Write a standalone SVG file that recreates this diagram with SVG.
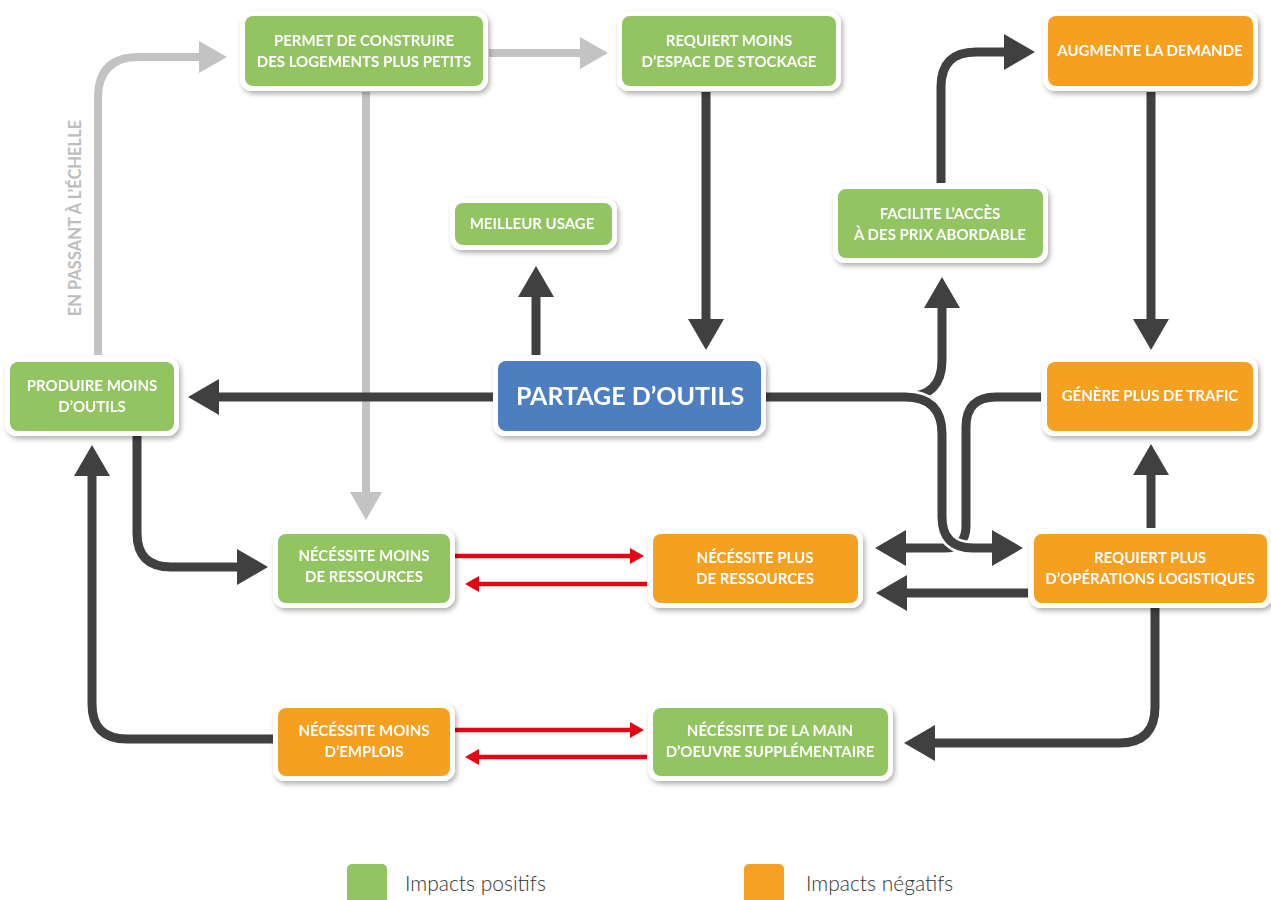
<svg xmlns="http://www.w3.org/2000/svg" width="1271" height="900" viewBox="0 0 1271 900">
<style>
.t{font-family:Lato,"Liberation Sans",sans-serif;font-weight:700;font-size:15px;fill:#fff;text-anchor:middle}
.big{font-size:25px}
.pos{fill:#93c462}.neg{fill:#f6a024}.mid{fill:#4e7fc0}
.wb{fill:#fff}
.dk{fill:none;stroke:#404040;stroke-width:9}
.gr{fill:none;stroke:#c3c3c3;stroke-width:8}
.rd{fill:none;stroke:#e30613;stroke-width:4.5}
.lg{font-family:Lato,"Open Sans",sans-serif;font-weight:300;font-size:21px;fill:#333}
.rot{font-family:Lato,"Liberation Sans",sans-serif;font-weight:700;font-size:16.5px;fill:#bdbdbd}
</style>
<defs>
<filter id="sh" x="-10%" y="-20%" width="125%" height="150%">
<feDropShadow dx="2" dy="3" stdDeviation="2.5" flood-color="#000" flood-opacity="0.3"/>
</filter>
<marker id="ad" markerUnits="userSpaceOnUse" markerWidth="31" markerHeight="36" viewBox="0 -18 31 36" refX="0" refY="0" orient="auto"><path d="M0,-18 L31,0 L0,18 Z" fill="#404040"/></marker>
<marker id="ag" markerUnits="userSpaceOnUse" markerWidth="28" markerHeight="32" viewBox="0 -16 28 32" refX="0" refY="0" orient="auto"><path d="M0,-16 L28,0 L0,16 Z" fill="#c3c3c3"/></marker>
<marker id="ar" markerUnits="userSpaceOnUse" markerWidth="14" markerHeight="16" viewBox="0 -8 14 16" refX="0" refY="0" orient="auto"><path d="M0,-8 L14,0 L0,8 Z" fill="#e30613"/></marker>
</defs>
<rect width="1271" height="900" fill="#fff"/>

<g id="connectors">
<path class="gr" d="M98,355 V98 Q98,57 139,57 H199" marker-end="url(#ag)"/>
<path class="gr" d="M489,53 H580" marker-end="url(#ag)"/>
<path class="gr" d="M366,92 V492" marker-end="url(#ag)"/>
<text class="rot" transform="translate(81,218) rotate(-90)" text-anchor="middle">EN PASSANT À L’ÉCHELLE</text>
<path class="dk" d="M497,397 H219" marker-end="url(#ad)"/>
<path class="dk" d="M536,355 V297" marker-end="url(#ad)"/>
<path class="dk" d="M706,92 V319" marker-end="url(#ad)"/>
<path class="dk" d="M765,397 H905 Q942,397 942,360 V308" marker-end="url(#ad)"/>
<path class="dk" d="M941,183 V87 Q941,52 976,52 H1004" marker-end="url(#ad)"/>
<path class="dk" d="M1151,92 V319" marker-end="url(#ad)"/>
<path class="dk" d="M1041,397 H996 Q966,397 966,427 V526 Q966,548 944,548 H906" marker-end="url(#ad)"/>
<path d="M905,397 Q942,397 942,434 V517 Q942,548 973,548 H992" fill="none" stroke="#fff" stroke-width="14"/>
<path class="dk" d="M905,397 Q942,397 942,434 V517 Q942,548 973,548 H992" marker-end="url(#ad)"/>
<path class="dk" d="M1028,593 H907" marker-end="url(#ad)"/>
<path class="dk" d="M1151,528 V475" marker-end="url(#ad)"/>
<path class="dk" d="M1155,608 V707 Q1155,743 1119,743 H935" marker-end="url(#ad)"/>
<path class="dk" d="M273,739 H127 Q92,739 92,704 V476" marker-end="url(#ad)"/>
<path class="dk" d="M137,436 V533 Q137,567 171,567 H237" marker-end="url(#ad)"/>
<path class="rd" d="M455,556 H630" marker-end="url(#ar)"/>
<path class="rd" d="M647,584 H479" marker-end="url(#ar)"/>
<path class="rd" d="M455,730 H630" marker-end="url(#ar)"/>
<path class="rd" d="M647,757 H479" marker-end="url(#ar)"/>
</g>

<g id="n-permet" filter="url(#sh)"><rect class="wb" x="240" y="11" width="248" height="80" rx="12"/><rect class="pos" x="245" y="16" width="238" height="70" rx="8"/>
<text class="t" x="364" y="46">PERMET DE CONSTRUIRE</text><text class="t" x="364" y="67">DES LOGEMENTS PLUS PETITS</text></g>

<g id="n-requiert-moins" filter="url(#sh)"><rect class="wb" x="617" y="11" width="224" height="80" rx="12"/><rect class="pos" x="622" y="16" width="214" height="70" rx="8"/>
<text class="t" x="729" y="46">REQUIERT MOINS</text><text class="t" x="729" y="67">D’ESPACE DE STOCKAGE</text></g>

<g id="n-augmente" filter="url(#sh)"><rect class="wb" x="1043" y="11" width="215" height="80" rx="12"/><rect class="neg" x="1048" y="16" width="205" height="70" rx="8"/>
<text class="t" x="1150" y="56">AUGMENTE LA DEMANDE</text></g>

<g id="n-facilite" filter="url(#sh)"><rect class="wb" x="833" y="184" width="215" height="79" rx="12"/><rect class="pos" x="838" y="189" width="205" height="69" rx="8"/>
<text class="t" x="940" y="219">FACILITE L’ACCÈS</text><text class="t" x="940" y="240">À DES PRIX ABORDABLE</text></g>

<g id="n-meilleur" filter="url(#sh)"><rect class="wb" x="450" y="198" width="167" height="52" rx="12"/><rect class="pos" x="455" y="203" width="157" height="42" rx="8"/>
<text class="t" x="532" y="229">MEILLEUR USAGE</text></g>

<g id="n-partage" filter="url(#sh)"><rect class="wb" x="493" y="356" width="273" height="80" rx="12"/><rect class="mid" x="498" y="361" width="263" height="70" rx="8"/>
<text class="t big" x="630" y="405">PARTAGE D’OUTILS</text></g>

<g id="n-produire" filter="url(#sh)"><rect class="wb" x="5" y="357" width="174" height="79" rx="12"/><rect class="pos" x="10" y="362" width="164" height="69" rx="8"/>
<text class="t" x="92" y="391">PRODUIRE MOINS</text><text class="t" x="92" y="412">D’OUTILS</text></g>

<g id="n-genere" filter="url(#sh)"><rect class="wb" x="1042" y="357" width="216" height="79" rx="12"/><rect class="neg" x="1047" y="362" width="206" height="69" rx="8"/>
<text class="t" x="1150" y="401">GÉNÈRE PLUS DE TRAFIC</text></g>

<g id="n-requiert-plus" filter="url(#sh)"><rect class="wb" x="1029" y="529" width="243" height="79" rx="12"/><rect class="neg" x="1034" y="534" width="233" height="69" rx="8"/>
<text class="t" x="1150" y="563">REQUIERT PLUS</text><text class="t" x="1150" y="584">D’OPÉRATIONS LOGISTIQUES</text></g>

<g id="n-moins-ressources" filter="url(#sh)"><rect class="wb" x="273" y="529" width="182" height="79" rx="12"/><rect class="pos" x="278" y="534" width="172" height="69" rx="8"/>
<text class="t" x="364" y="561">NÉCÉSSITE MOINS</text><text class="t" x="364" y="582">DE RESSOURCES</text></g>

<g id="n-plus-ressources" filter="url(#sh)"><rect class="wb" x="648" y="529" width="215" height="79" rx="12"/><rect class="neg" x="653" y="534" width="205" height="69" rx="8"/>
<text class="t" x="755" y="563">NÉCÉSSITE PLUS</text><text class="t" x="755" y="584">DE RESSOURCES</text></g>

<g id="n-moins-emplois" filter="url(#sh)"><rect class="wb" x="273" y="703" width="182" height="78" rx="12"/><rect class="neg" x="278" y="708" width="172" height="68" rx="8"/>
<text class="t" x="364" y="736">NÉCÉSSITE MOINS</text><text class="t" x="364" y="757">D’EMPLOIS</text></g>

<g id="n-main-oeuvre" filter="url(#sh)"><rect class="wb" x="648" y="703" width="245" height="78" rx="12"/><rect class="pos" x="653" y="708" width="235" height="68" rx="8"/>
<text class="t" x="770" y="736">NÉCÉSSITE DE LA MAIN</text><text class="t" x="770" y="757">D’OEUVRE SUPPLÉMENTAIRE</text></g>

<g id="legend">
<rect class="pos" x="347" y="864" width="40" height="44" rx="5"/>
<text class="lg" x="405" y="891">Impacts positifs</text>
<rect class="neg" x="744" y="864" width="40" height="44" rx="5"/>
<text class="lg" x="806" y="891">Impacts négatifs</text>
</g>
</svg>
